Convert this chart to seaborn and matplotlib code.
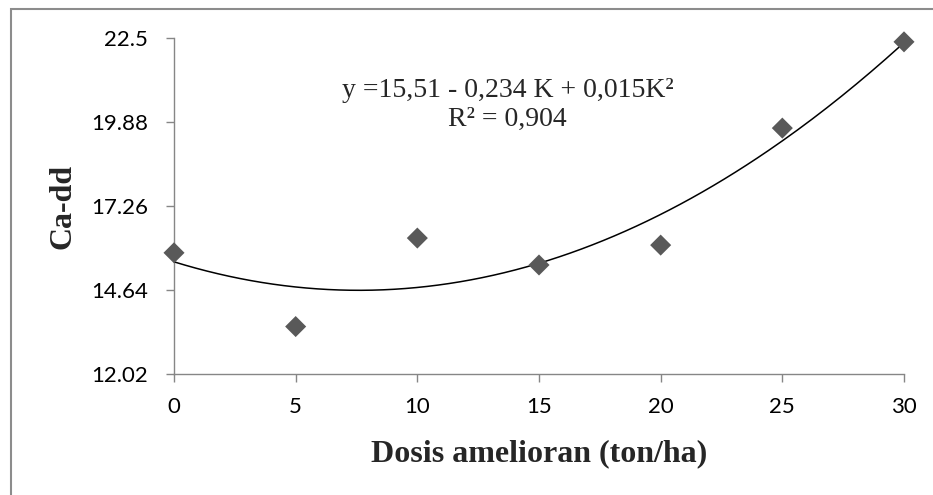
import numpy as np
import pandas as pd
import matplotlib
matplotlib.use("Agg")
import matplotlib.pyplot as plt
import seaborn as sns
from matplotlib.patches import Rectangle

# values
dosis = [0, 5, 10, 15, 20, 25, 30]
ca_dd = [15.80, 13.50, 16.26, 15.42, 16.04, 19.69, 22.38]
x_ticks = [0, 5, 10, 15, 20, 25, 30]
y_ticks = [12.02, 14.64, 17.26, 19.88, 22.5]
y_tick_labels = ["12.02", "14.64", "17.26", "19.88", "22.5"]
equation = "y =15,51 - 0,234 K + 0,015K²\nR² = 0,904"

sns.set_style("white")
plt.rcParams["font.family"] = ["Lato", "DejaVu Sans"]

df = pd.DataFrame({"dosis": dosis, "ca": ca_dd})

# quadratic trend line (least squares on the points, like Excel's trendline)
coef = np.polyfit(df["dosis"], df["ca"], 2)
xs = np.linspace(min(dosis), max(dosis), 200)
trend = pd.DataFrame({"x": xs, "y": np.polyval(coef, xs)})

fig = plt.figure(figsize=(9.33, 4.95), dpi=100)
ax = fig.add_axes([174 / 933, 1 - 374 / 495, 730 / 933, 336 / 495])

sns.lineplot(data=trend, x="x", y="y", color="black", linewidth=1.1, ax=ax, zorder=3)
sns.scatterplot(data=df, x="dosis", y="ca", marker="D", s=115, color="#595959",
                edgecolor="none", ax=ax, zorder=4, clip_on=False)

ax.set_xlim(0, 30)
ax.set_ylim(12.02, 22.5)
ax.set_xticks(x_ticks)
ax.set_yticks(y_ticks)
ax.set_yticklabels(y_tick_labels)

for side in ["top", "right"]:
    ax.spines[side].set_visible(False)
for side in ["left", "bottom"]:
    ax.spines[side].set_color("#868686")
    ax.spines[side].set_linewidth(1.0)

ax.tick_params(axis="both", direction="out", length=5.5, width=1.0, color="#868686",
               labelsize=16, labelcolor="black")
ax.tick_params(axis="y", pad=13, left=True)
ax.tick_params(axis="x", pad=11, bottom=True)

ax.set_xlabel("Dosis amelioran (ton/ha)", fontsize=23, fontweight="bold",
              family="Liberation Serif")
ax.xaxis.set_label_coords(0.5, -0.259)
ax.xaxis.label.set_va("baseline")
ax.set_ylabel("Ca-dd", fontsize=23, fontweight="bold", family="Liberation Serif")
ax.yaxis.set_label_coords(-0.152, 0.5)
ax.yaxis.label.set_va("center")

ax.text(13.7, 20.41, equation, ha="center", va="center", fontsize=20,
        family="Liberation Serif", linespacing=1.2)

# chart area border (only top and left edges fall inside the image)
fig.add_artist(Rectangle((11 / 933, -0.1), 1.5, (495 - 9) / 495 + 0.1,
                         transform=fig.transFigure, fill=False,
                         edgecolor="#8c8c8c", linewidth=1.5))

fig.savefig("out.png", dpi=100)
